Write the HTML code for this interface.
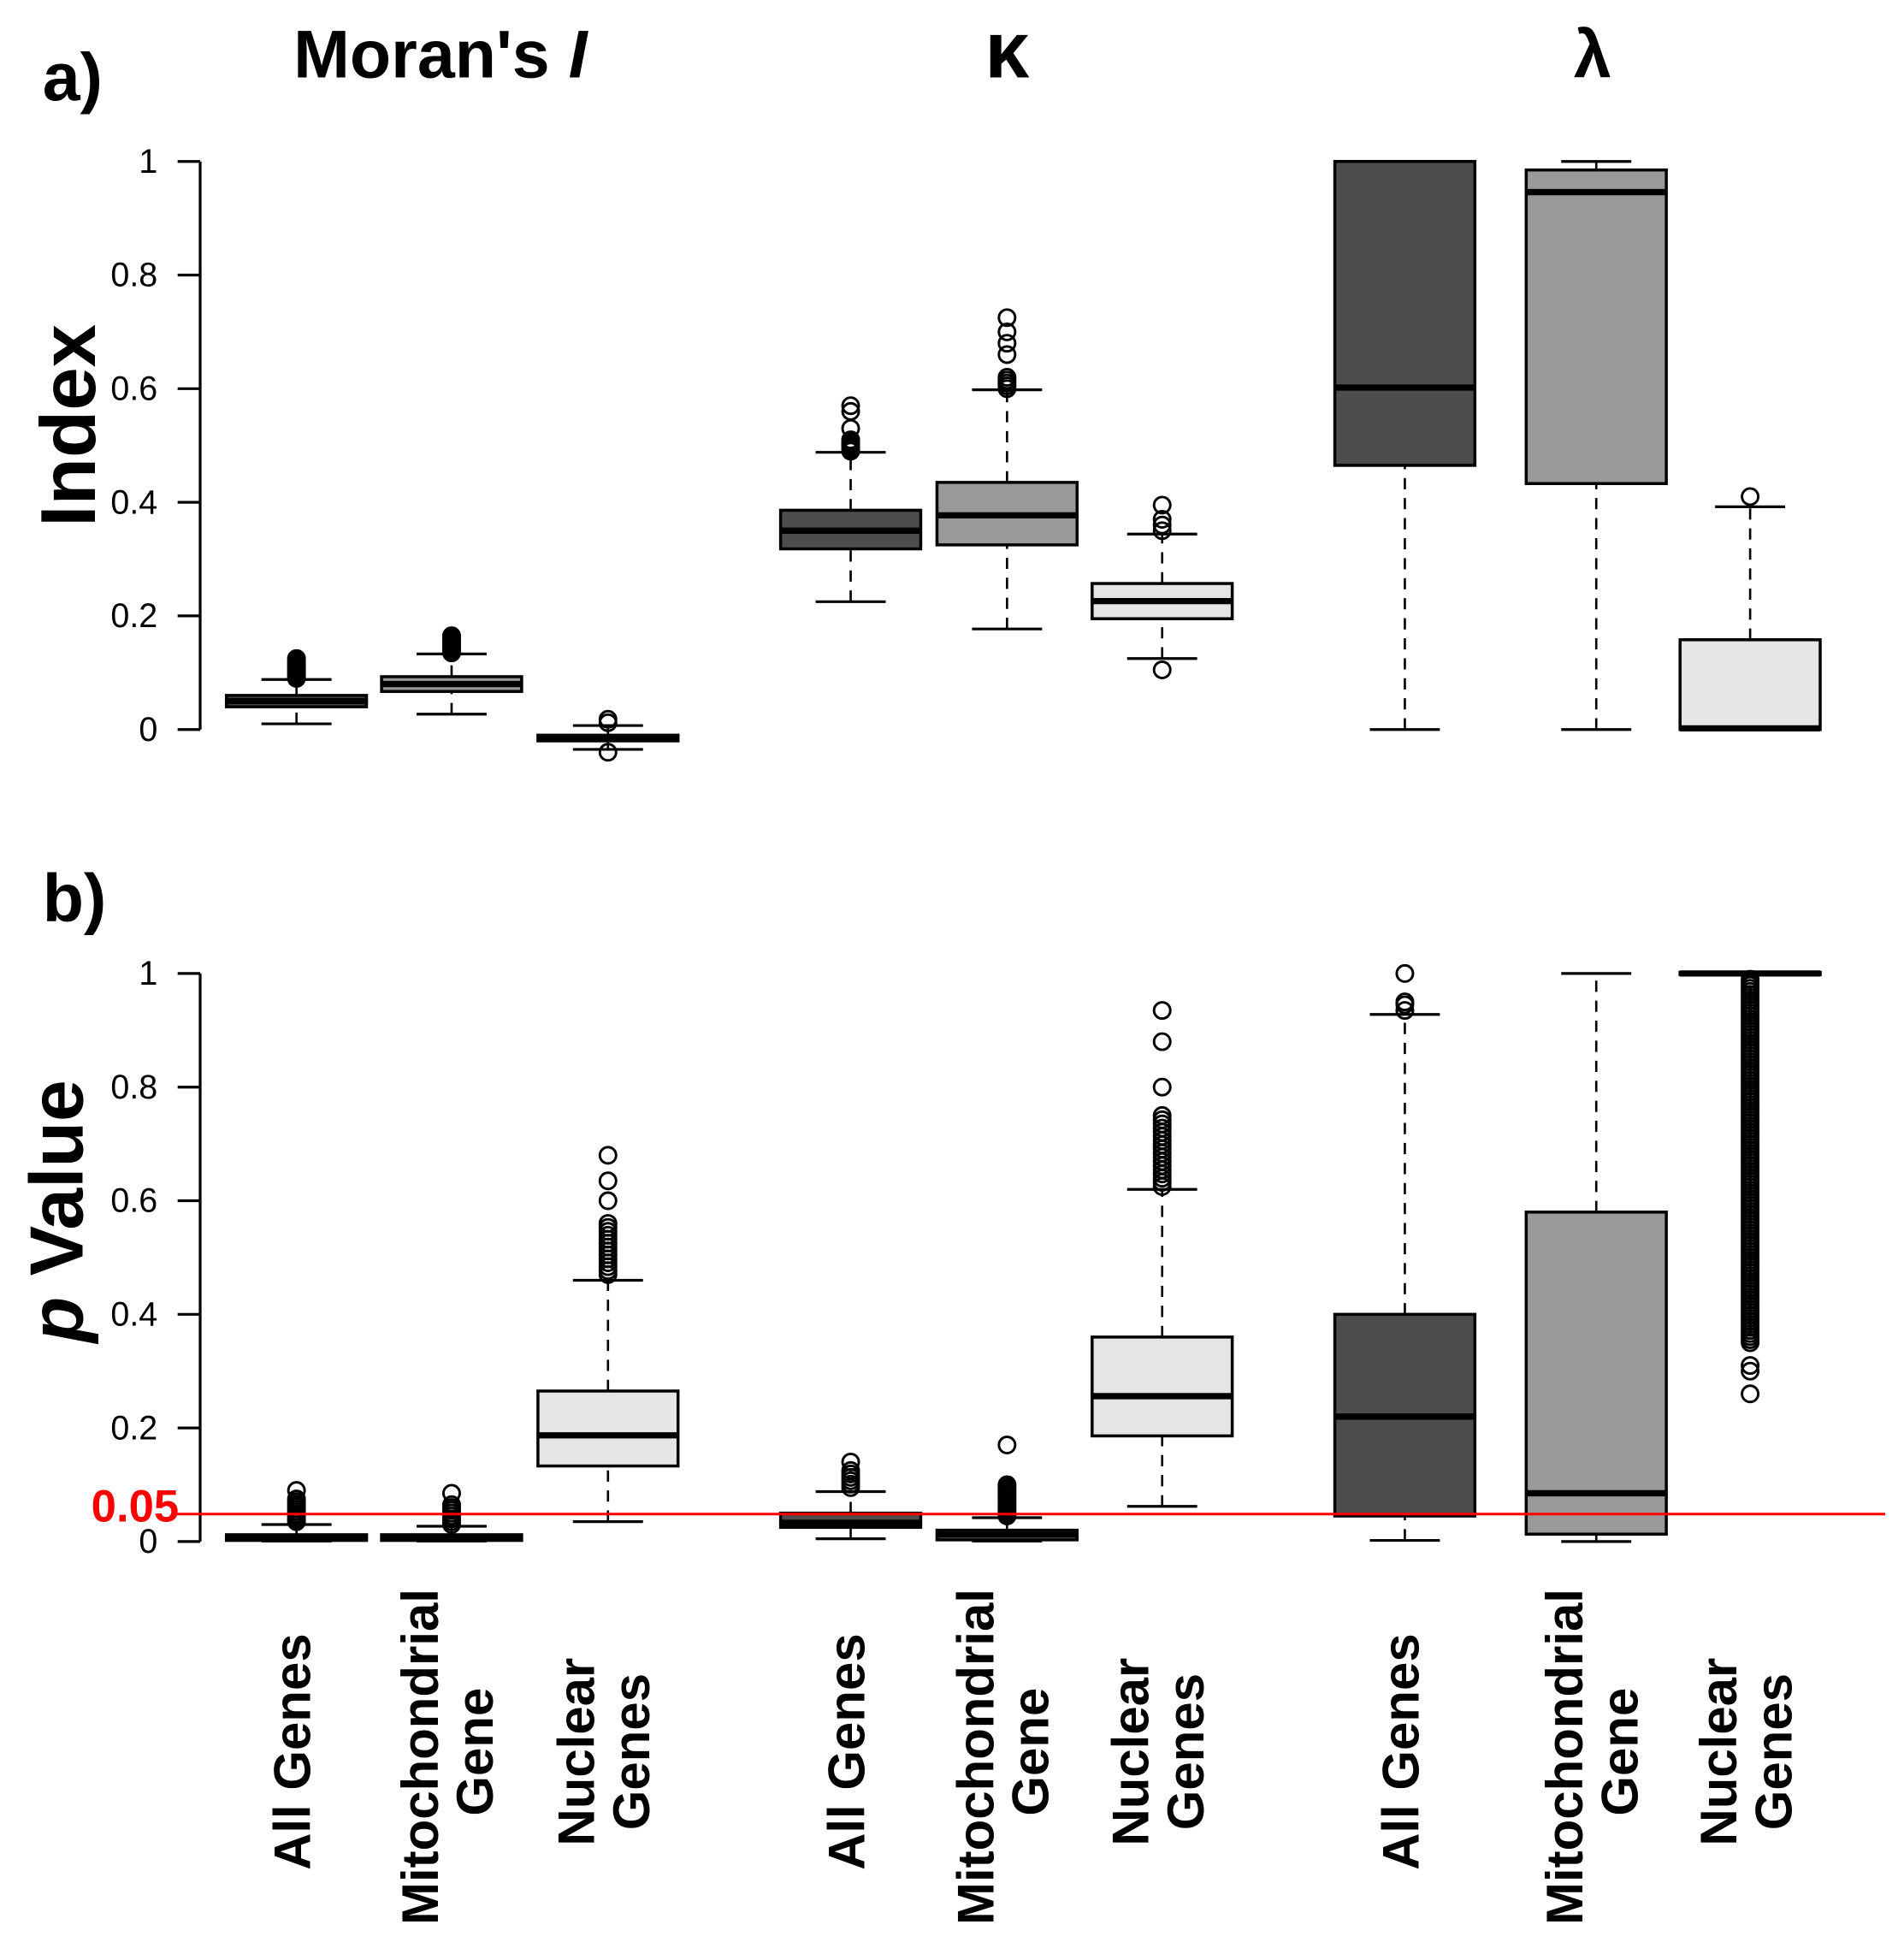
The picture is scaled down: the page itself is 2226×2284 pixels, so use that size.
<!DOCTYPE html>
<html><head><meta charset="utf-8"><style>
html,body{margin:0;padding:0;background:#fff}
svg{display:block}
text{font-family:"Liberation Sans",Arial,sans-serif}
</style></head><body>
<svg id="s" width="2226" height="2284" viewBox="0 0 1522 1561.6" xmlns="http://www.w3.org/2000/svg">
<rect width="1522" height="1562" fill="#fff"/>
<text x="34" y="80" font-size="54" font-weight="bold">a)</text>
<text x="34" y="736" font-size="54" font-weight="bold">b)</text>
<text x="352" y="62" font-size="54" font-weight="bold" text-anchor="middle">Moran's <tspan font-style="italic">I</tspan></text>
<text x="805" y="62" font-size="64" font-weight="bold" text-anchor="middle" font-family="Liberation Serif,serif">κ</text>
<text x="1273" y="62" font-size="54" font-weight="bold" text-anchor="middle">λ</text>
<text transform="translate(76 340) rotate(-90)" font-size="62" font-weight="bold" text-anchor="middle">Index</text>
<text transform="translate(66 968) rotate(-90)" font-size="60" font-weight="bold" text-anchor="middle"><tspan font-style="italic">p</tspan>  Value</text>
<text x="143" y="1216" font-size="36" font-weight="bold" fill="#f00" text-anchor="end">0.05</text>
<g id="g"></g>
<line x1="140" y1="1210" x2="1507" y2="1210" stroke="#f00" stroke-width="2"/>
</svg>
<script>
var g=document.getElementById('g'),h='';
function L(x1,y1,x2,y2,w,d){h+='<line x1="'+x1+'" y1="'+y1+'" x2="'+x2+'" y2="'+y2+'" stroke="#000" stroke-width="'+(w||2)+'"'+(d?' stroke-dasharray="'+d+'"':'')+'/>';}
function T(x,y,t,a,fs,extra){h+='<text x="'+x+'" y="'+y+'" font-size="'+(fs||27)+'" text-anchor="'+(a||'end')+'" '+(extra||'')+'>'+t+'</text>';}
function axis(y0){L(160,y0,160,y0-454,2.2);for(var i=0;i<=5;i++){var y=y0-454*i/5;L(142,y,160,y,2.2);T(126,y+9,i==0?'0':i==5?'1':(i/5).toFixed(1));}}
axis(583);axis(1232);
var col=['#4d4d4d','#999999','#e5e5e5'];
var xs=[237,361,486,680,805,929,1123,1276,1399];
function box(y0,k,b){var x=xs[k],c=col[k%3],Y=function(v){return y0-454*v;};
 var hw=56;
 L(x,Y(b[0]),x,Y(b[1]),1.8,'9,7');L(x,Y(b[3]),x,Y(b[4]),1.8,'9,7');
 L(x-28,Y(b[0]),x+28,Y(b[0]),2.2);L(x-28,Y(b[4]),x+28,Y(b[4]),2.2);
 var t=Y(b[3]),bt=Y(b[1]);if(bt-t<2){t-=1;bt+=1;}
 h+='<rect x="'+(x-hw)+'" y="'+t+'" width="'+(2*hw)+'" height="'+(bt-t)+'" fill="'+c+'" stroke="#000" stroke-width="2.4"/>';
 L(x-hw,Y(b[2]),x+hw,Y(b[2]),5);
 (b[5]||[]).forEach(function(v){h+='<circle cx="'+x+'" cy="'+Y(v)+'" r="6.5" fill="none" stroke="#000" stroke-width="2"/>';});
}
function rng(a,b,n){var r=[];for(var i=0;i<n;i++)r.push(a+(b-a)*i/(n-1));return r;}
var A=[
[0.01,0.04,0.05,0.06,0.088,rng(0.09,0.125,10)],
[0.027,0.067,0.08,0.093,0.133,rng(0.135,0.165,10)],
[-0.035,-0.02,-0.015,-0.01,0.007,[0.012,0.018,-0.04]],
[0.225,0.318,0.35,0.386,0.488,rng(0.49,0.51,6).concat([0.53,0.56,0.57])],
[0.177,0.325,0.377,0.435,0.598,rng(0.6,0.62,5).concat([0.66,0.68,0.7,0.725])],
[0.125,0.195,0.226,0.257,0.344,[0.35,0.36,0.37,0.395,0.105]],
[0,0.465,0.602,1,1,[]],
[0,0.433,0.946,0.985,1,[]],
[0,0,0.002,0.158,0.392,[0.41]]];
var B=[
[0.001,0.002,0.007,0.012,0.03,rng(0.035,0.075,10).concat([0.09])],
[0.001,0.002,0.007,0.012,0.027,rng(0.03,0.065,8).concat([0.085])],
[0.035,0.133,0.187,0.265,0.46,rng(0.47,0.56,14).concat([0.6,0.635,0.68])],
[0.005,0.025,0.033,0.05,0.088,rng(0.095,0.125,6).concat([0.14])],
[0.001,0.003,0.012,0.02,0.042,rng(0.045,0.1,14).concat([0.17])],
[0.062,0.186,0.256,0.36,0.62,rng(0.625,0.75,18).concat([0.8,0.88,0.935])],
[0.002,0.045,0.22,0.4,0.928,[0.935,0.945,0.95,1.0]],
[0,0.013,0.085,0.58,1,[]],
[1,1,1,1,1,[0.26,0.3,0.31].concat(rng(0.35,0.99,120))]];
A.forEach(function(b,k){box(583,k,b);});B.forEach(function(b,k){box(1232,k,b);});
var labs=[['All Genes'],['Mitochondrial','Gene'],['Nuclear','Genes']];
xs.forEach(function(x,k){var l=labs[k%3];
 l.forEach(function(s,j){var dx=(l.length==1?0:(j==0?-22:22));var yy=(k%3==1&&j==0)?1404:1400;
 h+='<text transform="translate('+(x+dx+11)+' '+yy+') rotate(-90)" font-size="41" font-weight="bold" text-anchor="middle">'+s+'</text>';});});
g.innerHTML=h;
</script>
</body></html>
